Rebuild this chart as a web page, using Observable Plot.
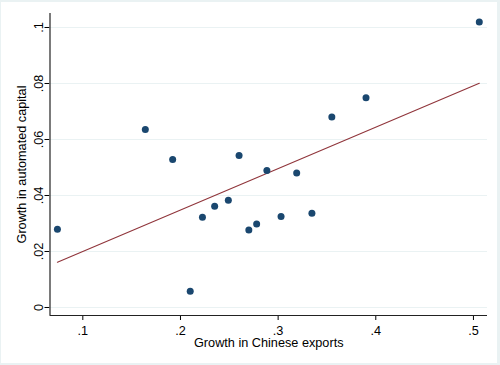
<!DOCTYPE html>
<html>
<head>
<meta charset="utf-8">
<script src="https://cdn.jsdelivr.net/npm/d3@7"></script>
<script src="https://cdn.jsdelivr.net/npm/@observablehq/plot@0.6"></script>
<style>
  html, body { margin: 0; padding: 0; background: #fff; }
  #frame { width: 500px; height: 365px; background: #eaf2f3; position: relative; overflow: hidden; }
  #chart { position: absolute; left: 1px; top: 2px; width: 496px; height: 361px; background: #fff; }
  #chart svg { display: block; }
</style>
</head>
<body>
<div id="frame"><div id="chart"></div></div>
<script>
// Data
const exportsGrowth = [0.074, 0.164, 0.192, 0.210, 0.2225, 0.235, 0.249, 0.260, 0.270, 0.278, 0.2885, 0.303, 0.319, 0.3346, 0.355, 0.390, 0.506];
const capitalGrowth = [0.0279, 0.0636, 0.0529, 0.0058, 0.0322, 0.0362, 0.0383, 0.0543, 0.0277, 0.0298, 0.0489, 0.0325, 0.0480, 0.0337, 0.0680, 0.0749, 0.1020];

const xTicks = [0.1, 0.2, 0.3, 0.4, 0.5];
const xTickLabels = [".1", ".2", ".3", ".4", ".5"];
const yTicks = [0, 0.02, 0.04, 0.06, 0.08, 0.1];
const yTickLabels = ["0", ".02", ".04", ".06", ".08", ".1"];

const xTitle = "Growth in Chinese exports";
const yTitle = "Growth in automated capital";

const xDomain = [0.0664, 0.5144];
const yDomain = [-0.00286, 0.105];

const points = exportsGrowth.map((x, i) => ({x, y: capitalGrowth[i]}));

const FONT = "'Liberation Sans', Arial, Helvetica, sans-serif";
const FS = 12.7;

const chart = Plot.plot({
  width: 496,
  height: 361,
  marginLeft: 48.5,
  marginRight: 10,
  marginTop: 11,
  marginBottom: 48,
  style: {fontFamily: FONT, fontSize: FS + "px", color: "#000", background: "#fff", overflow: "visible"},
  x: {
    domain: xDomain,
    ticks: xTicks,
    tickFormat: d => xTickLabels[xTicks.findIndex(t => Math.abs(t - d) < 1e-9)],
    tickSize: 5,
    tickPadding: 5,
    label: null
  },
  y: {
    domain: yDomain,
    ticks: yTicks,
    tickFormat: () => "",
    tickSize: 5,
    tickPadding: 0,
    label: null
  },
  marks: [
    Plot.ruleY(yTicks, {stroke: "#eaf2f3", strokeWidth: 1.2}),
    Plot.ruleX([xDomain[0]], {stroke: "#222", strokeWidth: 1.2}),
    Plot.ruleY([yDomain[0]], {stroke: "#222", strokeWidth: 1.2}),
    Plot.linearRegressionY(points, {x: "x", y: "y", stroke: "#90353b", strokeWidth: 1.1, ci: 0}),
    Plot.dot(points, {x: "x", y: "y", r: 3.5, fill: "#1a476f", stroke: "none"}),
    Plot.text(yTicks, {
      y: d => d,
      text: (d, i) => yTickLabels[i],
      frameAnchor: "left",
      rotate: -90,
      textAnchor: "middle",
      lineAnchor: "bottom",
      dx: -7.5,
      fontSize: FS,
      fill: "#000"
    }),
    Plot.text([xTitle], {
      text: d => d,
      frameAnchor: "bottom",
      lineAnchor: "bottom",
      textAnchor: "middle",
      dy: 31.5,
      fontSize: FS,
      fill: "#000"
    }),
    Plot.text([yTitle], {
      text: d => d,
      frameAnchor: "left",
      rotate: -90,
      textAnchor: "middle",
      lineAnchor: "bottom",
      dx: -24.5,
      fontSize: FS,
      fill: "#000"
    })
  ]
});
document.getElementById("chart").appendChild(chart);
</script>
</body>
</html>
